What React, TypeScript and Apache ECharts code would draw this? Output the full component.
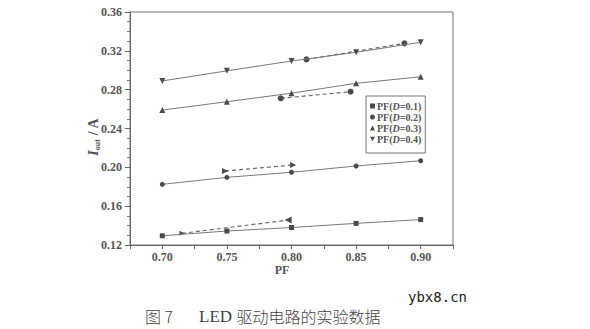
import React, { useEffect, useRef } from "react";
import * as echarts from "echarts";

const pfValues = [0.7, 0.75, 0.8, 0.85, 0.9];
const seriesNames = ["PF(D=0.1)", "PF(D=0.2)", "PF(D=0.3)", "PF(D=0.4)"];
const iout01 = [0.1295, 0.1344, 0.138, 0.1423, 0.1462];
const iout02 = [0.1825, 0.1897, 0.1949, 0.2014, 0.2068];
const iout03 = [0.259, 0.2676, 0.2764, 0.2865, 0.2933];
const iout04 = [0.289, 0.2994, 0.3095, 0.3185, 0.3288];

// dashed comparison segments: [pf, iout]
const dash01 = [[0.7152, 0.132], [0.7974, 0.1457]];
const dash02 = [[0.7486, 0.1962], [0.8012, 0.2024]];
const dash03 = [[0.7917, 0.2711], [0.8457, 0.2779]];
const dash04 = [[0.8116, 0.3112], [0.8874, 0.3277]];

const yTicks = { min: 0.12, max: 0.36, step: 0.04 };
const xRange = { min: 0.675, max: 0.925, step: 0.025 };

const DOWN_TRI = "path://M0,0 L10,0 L5,9 Z";
const symbols = ["rect", "circle", "triangle", DOWN_TRI];
const symbolSizes = [5, 5, 6, 6];
const seriesValues = [iout01, iout02, iout03, iout04];

const SERIF = "'Liberation Serif', 'Times New Roman', serif";
const MARK = "#4a4a4a";
const LINE = "#7a7a7a";

export default function App() {
  const ref = useRef<HTMLDivElement>(null);
  useEffect(() => {
    if (!ref.current) return;
    const chart = echarts.init(ref.current, null, { renderer: "svg" });

    const mainSeries = seriesValues.map((vals, i) => ({
      name: seriesNames[i],
      type: "line",
      data: vals.map((v, j) => [pfValues[j], v]),
      symbol: symbols[i],
      symbolSize: symbolSizes[i],
      lineStyle: { color: LINE, width: 1 },
      itemStyle: { color: MARK },
      z: 3,
    }));

    const dashSeries = [
      {
        data: [
          { value: dash01[0], symbol: "triangle", symbolRotate: -90, symbolSize: 5 },
          { value: dash01[1], symbol: "triangle", symbolRotate: 90, symbolSize: 7 },
        ],
      },
      {
        data: [
          { value: dash02[0], symbol: "triangle", symbolRotate: -90, symbolSize: 6 },
          { value: dash02[1], symbol: "triangle", symbolRotate: -90, symbolSize: 6 },
        ],
      },
      {
        data: [
          { value: dash03[0], symbol: "circle", symbolSize: 6 },
          { value: dash03[1], symbol: "circle", symbolSize: 6 },
        ],
      },
      {
        data: [
          { value: dash04[0], symbol: "circle", symbolSize: 6 },
          { value: dash04[1], symbol: "circle", symbolSize: 6 },
        ],
      },
    ].map((s) => ({
      type: "line",
      data: s.data,
      lineStyle: { color: "#6a6a6a", width: 1.2, type: [4, 3] },
      itemStyle: { color: MARK },
      z: 2,
    }));

    const legendRich = {
      a: { fontFamily: SERIF, fontSize: 10, color: "#555", fontWeight: "bold", lineHeight: 9 },
      i: { fontFamily: SERIF, fontSize: 10, color: "#555", fontWeight: "bold", fontStyle: "italic", lineHeight: 9 },
    };

    chart.setOption({
      animation: false,
      backgroundColor: "#ffffff",
      grid: {
        left: 130,
        top: 12,
        width: 323,
        height: 233,
        show: true,
        borderColor: "#777",
        borderWidth: 1,
      },
      legend: {
        data: seriesNames.map((n, i) => ({ name: n, icon: symbols[i] })),
        orient: "vertical",
        left: 366,
        top: 96,
        padding: [5, 4, 9, 4],
        itemGap: 1,
        itemWidth: 5,
        itemHeight: 5,
        borderColor: "#777",
        borderWidth: 1,
        itemStyle: { color: MARK },
        formatter: (name: string) => {
          const m = name.match(/^PF\(D(=.*)\)$/);
          return m ? `{a|PF(}{i|D}{a|${m[1]})}` : name;
        },
        textStyle: { fontFamily: SERIF, fontSize: 10, color: "#555", padding: [0, 0, 0, -3], rich: legendRich },
      },
      xAxis: {
        type: "value",
        min: xRange.min,
        max: xRange.max,
        interval: xRange.step,
        axisLine: { show: true, lineStyle: { color: "#666" } },
        axisTick: { show: true, length: 4, lineStyle: { color: "#666" } },
        splitLine: { show: false },
        axisLabel: {
          fontFamily: SERIF,
          fontWeight: "bold",
          fontSize: 12,
          color: "#555",
          margin: 6,
          formatter: (v: number) => {
            const k = Math.round(v * 1000);
            if (k % 50 !== 0 || k < 700 || k > 900) return "";
            return (k / 1000).toFixed(2);
          },
        },
      },
      yAxis: {
        type: "value",
        min: yTicks.min,
        max: yTicks.max,
        interval: yTicks.step,
        axisLine: { show: true, lineStyle: { color: "#666" } },
        axisTick: { show: true, length: 5, lineStyle: { color: "#666" } },
        minorTick: { show: true, splitNumber: 4, length: 3, lineStyle: { color: "#777" } },
        splitLine: { show: false },
        axisLabel: {
          fontFamily: SERIF,
          fontWeight: "bold",
          fontSize: 12,
          color: "#555",
          margin: 8,
          formatter: (v: number) => v.toFixed(2),
        },
      },
      series: [...mainSeries, ...dashSeries],
      graphic: [
        {
          type: "text",
          x: 282,
          y: 270,
          style: {
            text: "PF",
            fontFamily: SERIF,
            fontWeight: "bold",
            fontSize: 12,
            fill: "#555",
            align: "center",
            verticalAlign: "middle",
          },
        },
        {
          type: "text",
          x: 93,
          y: 137,
          rotation: Math.PI / 2,
          style: {
            text: "{i|I}{s|out}{n| / A}",
            align: "center",
            verticalAlign: "middle",
            rich: {
              i: { fontFamily: SERIF, fontStyle: "italic", fontWeight: "bold", fontSize: 15, fill: "#555" },
              s: { fontFamily: SERIF, fontWeight: "bold", fontSize: 8, fill: "#555", padding: [8, 0, 0, 0] },
              n: { fontFamily: SERIF, fontWeight: "bold", fontSize: 14, fill: "#555" },
            },
          },
        },
        {
          type: "text",
          x: 145,
          y: 316,
          style: {
            text: "{c|图 7}{g| }{l|LED }{c|驱动电路的实验数据}",
            verticalAlign: "middle",
            rich: {
              c: { fontFamily: "'Noto Sans CJK SC'", fontSize: 16, fill: "#444", fontWeight: 300, lineHeight: 18 },
              g: { fontSize: 16, width: 26, lineHeight: 18 },
              l: { fontFamily: SERIF, fontSize: 17, fill: "#444", lineHeight: 18 },
            },
          },
        },
        {
          type: "text",
          left: 408,
          top: 290,
          style: {
            text: "ybx8.cn",
            fontFamily: "'DejaVu Sans Mono', monospace",
            fontSize: 14,
            fill: "#222",
          },
        },
      ],
    });
    return () => chart.dispose();
  }, []);
  return (
    <div
      ref={ref}
      style={{ position: "absolute", left: 0, top: 0, width: 590, height: 329, background: "#fff" }}
    />
  );
}
